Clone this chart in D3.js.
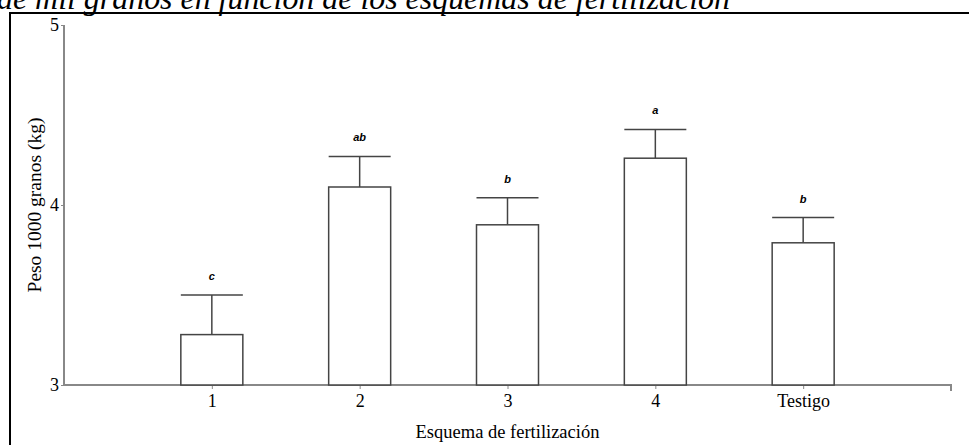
<!DOCTYPE html>
<html lang="es">
<head>
<meta charset="UTF-8">
<script src="https://d3js.org/d3.v7.min.js"></script>
<style>
  body { margin: 0; background: #fff; }
  svg { display: block; }
</style>
</head>
<body>
<script>
    // data
    var categories = ["1", "2", "3", "4", "Testigo"];
    var means = [3.28, 4.10, 3.89, 4.26, 3.79];
    var upper = [3.50, 4.27, 4.04, 4.42, 3.93];
    var letters = ["c", "ab", "b", "a", "b"];
    var yTicks = [3, 4, 5];

    var W = 969, H = 445;
    var margin = { left: 64, right: 18, top: 25, bottom: 60 };
    var serif = "'Liberation Serif', 'Times New Roman', serif";

    var svg = d3.select("body").append("svg")
        .attr("width", W)
        .attr("height", H);

    // cut-off caption at the top of the page
    svg.append("text")
        .attr("x", -3)
        .attr("y", 9)
        .attr("textLength", 733)
        .attr("lengthAdjust", "spacingAndGlyphs")
        .style("font-family", serif)
        .style("font-style", "italic")
        .style("font-size", "31px")
        .text("de mil granos en función de los esquemas de fertilización");

    // frame (only top and left visible)
    svg.append("path")
        .attr("d", "M10,445 V13 H969")
        .attr("fill", "none")
        .attr("stroke", "#000")
        .attr("stroke-width", 2);

    var x = d3.scalePoint()
        .domain(categories)
        .range([margin.left, 951])
        .padding(1);

    var y = d3.scaleLinear()
        .domain([3, 5])
        .range([385, margin.top]);

    var barW = 62;

    // y axis
    var yAxis = svg.append("g")
        .attr("transform", "translate(" + margin.left + ",0)")
        .call(d3.axisLeft(y).tickValues(yTicks).tickFormat(d3.format("d")).tickSize(3).tickPadding(2));
    yAxis.select(".domain").attr("stroke", "#888").attr("stroke-width", 2).attr("d", "M0," + y(5) + "V" + y(3));
    yAxis.selectAll(".tick line").attr("stroke", "#888");
    yAxis.selectAll("text").style("font-family", serif).style("font-size", "18px").attr("fill", "#000");

    // x axis
    var xAxis = svg.append("g")
        .attr("transform", "translate(0," + y(3) + ")")
        .call(d3.axisBottom(x).tickSize(4).tickPadding(5));
    xAxis.select(".domain").attr("stroke", "#888").attr("stroke-width", 2)
        .attr("d", "M" + margin.left + ",0H951V6");
    xAxis.selectAll(".tick line").attr("stroke", "#888");
    xAxis.selectAll("text").style("font-family", serif).style("font-size", "18px").attr("fill", "#000");

    // axis titles
    svg.append("text")
        .attr("transform", "translate(41," + 205 + ") rotate(-90)")
        .attr("text-anchor", "middle")
        .style("font-family", serif)
        .style("font-size", "19.5px")
        .text("Peso 1000 granos (kg)");

    svg.append("text")
        .attr("x", x("3"))
        .attr("y", 438)
        .attr("text-anchor", "middle")
        .style("font-family", serif)
        .style("font-size", "18.5px")
        .text("Esquema de fertilización");

    var data = categories.map(function (c, i) {
        return { cat: c, mean: means[i], up: upper[i], letter: letters[i] };
    });

    // error bars
    var err = svg.selectAll(".err").data(data).enter().append("g")
        .attr("stroke", "#444").attr("stroke-width", 1.5);
    err.append("line")
        .attr("x1", d => x(d.cat)).attr("x2", d => x(d.cat))
        .attr("y1", d => y(d.mean)).attr("y2", d => y(d.up));
    err.append("line")
        .attr("x1", d => x(d.cat) - barW / 2).attr("x2", d => x(d.cat) + barW / 2)
        .attr("y1", d => y(d.up)).attr("y2", d => y(d.up));

    // bars
    svg.selectAll(".bar").data(data).enter().append("rect")
        .attr("x", d => x(d.cat) - barW / 2)
        .attr("y", d => y(d.mean))
        .attr("width", barW)
        .attr("height", d => y(3) - y(d.mean))
        .attr("fill", "#fff")
        .attr("stroke", "#444")
        .attr("stroke-width", 1.5);

    // significance letters
    svg.selectAll(".lbl").data(data).enter().append("text")
        .attr("x", d => x(d.cat))
        .attr("y", d => y(d.up) - 15)
        .attr("text-anchor", "middle")
        .style("font-family", "'Liberation Sans', Arial, sans-serif")
        .style("font-style", "italic")
        .style("font-weight", "bold")
        .style("font-size", "11px")
        .text(d => d.letter);
</script>
</body>
</html>
